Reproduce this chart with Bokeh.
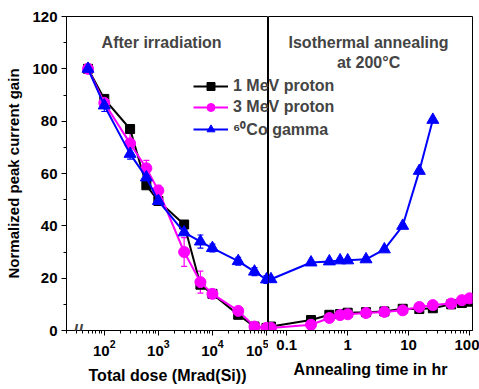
from bokeh.plotting import figure
from bokeh.layouts import row
from bokeh.models import (Range1d, FixedTicker, LogTickFormatter, CustomJSTickFormatter,
                          Legend, LegendItem, Label, Whisker, TeeHead, ColumnDataSource)
from bokeh.embed import file_html
from bokeh.resources import INLINE

# ---------------- data ----------------
dose = [50, 100, 300, 600, 1000, 3000, 6000, 10000, 30000, 60000, 100000]
p1_dose_gain = [100, 88.5, 77, 55.5, 49.5, 40.5, 17.5, 14, 6, 1.5, 1]
p3_dose_gain = [100, 87, 71.5, 62, 53.5, 30, 18.5, 14, 7.5, 1.5, 1]
co_dose_gain = [100, 86, 67.5, 58.5, 49.5, 37.5, 34, 31.5, 26.5, 22.5, 19.5]
p3_dose_err = [0, 1.5, 4, 3, 2, 5.5, 4.2, 1, 1, 0.5, 0.5]
co_dose_err = [0, 2.3, 2, 1.5, 1, 1, 2.5, 1.5, 1.5, 1.5, 1.5]

anneal_t = [0.055, 0.25, 0.5, 0.75, 1, 2, 4, 8, 15, 25, 50, 75, 100]
p1_anneal = [1.5, 4, 6, 6.3, 6.8, 7, 7.3, 8.3, 8.2, 8.5, 10, 10.5, 11]
p3_anneal = [1, 2.2, 4.8, 5.9, 6.2, 6.7, 7.1, 7.7, 9, 9.7, 10.3, 11.6, 12.3]
co_t = [0.055, 0.25, 0.5, 0.75, 1, 2, 4, 8, 15, 25]
co_anneal = [19.6, 26, 26.4, 26.8, 26.8, 27.2, 31, 40, 61, 80.5]

series_names = ["1 MeV proton", "3 MeV proton", "\u2076\u2070Co gamma"]
colors = ["black", "#FF00FF", "#0000FF"]

dose_ticks = [1e2, 1e3, 1e4, 1e5]
time_ticks = [0.1, 1, 10, 100]
y_ticks = [0, 20, 40, 60, 80, 100, 120]

FONT = "Liberation Sans"


def minor_list(lo_exp, hi_exp):
    return [m * 10.0 ** k for k in range(lo_exp, hi_exp) for m in range(2, 10)]


def style_axis(ax, label_size="16px", tick_size="15px"):
    ax.axis_line_color = "black"
    ax.major_tick_out = 5
    ax.major_tick_in = 0
    ax.minor_tick_out = 3
    ax.minor_tick_in = 0
    ax.major_tick_line_color = "black"
    ax.minor_tick_line_color = "black"
    ax.major_label_text_font = FONT
    ax.major_label_text_font_style = "bold"
    ax.major_label_text_font_size = tick_size
    ax.major_label_text_color = "black"
    ax.axis_label_text_font = FONT
    ax.axis_label_text_font_style = "bold"
    ax.axis_label_text_font_size = label_size
    ax.axis_label_text_color = "black"
    ax.major_label_standoff = 4
    ax.axis_label_standoff = 8


y_range = Range1d(0, 120)
H = 386
markers = ["square", "circle", "triangle"]
msizes = [9, 11, 12]

# ---------------- left panel ----------------
left = figure(width=268, height=H, x_axis_type="log", x_range=Range1d(20, 1.09e5),
              y_range=y_range, output_backend="svg", toolbar_location=None,
              min_border_left=66, min_border_right=0, min_border_top=16, min_border_bottom=52)
left.grid.visible = False
left.outline_line_color = "black"
left.outline_line_width = 1

xa = left.xaxis[0]
xa.ticker = FixedTicker(ticks=dose_ticks, minor_ticks=minor_list(1, 5))
xa.formatter = LogTickFormatter()
xa.axis_label = "Total dose (Mrad(Si))"
style_axis(xa)

ya = left.yaxis[0]
ya.ticker = FixedTicker(ticks=y_ticks, minor_ticks=[10, 30, 50, 70, 90, 110])
ya.axis_label = "Normalized peak current gain"
style_axis(ya, label_size="15px")
ya.axis_label_standoff = 7

left_vals = [p1_dose_gain, p3_dose_gain, co_dose_gain]

for vals, errs, col in [(p3_dose_gain, p3_dose_err, colors[1]), (co_dose_gain, co_dose_err, colors[2])]:
    src = ColumnDataSource(dict(x=dose, lo=[v - e for v, e in zip(vals, errs)],
                                hi=[v + e for v, e in zip(vals, errs)]))
    w = Whisker(base="x", lower="lo", upper="hi", source=src, dimension="height",
                line_color=col, line_width=1.2,
                upper_head=TeeHead(size=6, line_color=col, line_width=1.2),
                lower_head=TeeHead(size=6, line_color=col, line_width=1.2))
    left.add_layout(w)

for vals, col, mk, ms in zip(left_vals, colors, markers, msizes):
    left.line(dose, vals, line_color=col, line_width=2)
    left.scatter(dose, vals, marker=mk, size=ms, fill_color=col, line_color=col)

left.add_layout(Label(x=1150, y=110, text="After irradiation", text_align="center",
                      text_baseline="middle", text_font=FONT, text_font_style="bold",
                      text_font_size="16px"))
left.add_layout(Label(x=33, y=0, text="//", text_align="center", text_baseline="middle",
                      text_font=FONT, text_font_style="bold", text_font_size="18px"))

# ---------------- right panel ----------------
right = figure(width=80 + 204 + 7, height=H, x_axis_type="log", x_range=Range1d(0.0501, 112),
               y_range=y_range, y_axis_location=None, output_backend="svg",
               toolbar_location=None, min_border_left=80, min_border_right=7,
               min_border_top=16, min_border_bottom=52, margin=(0, 0, 0, -80))
right.grid.visible = False
right.outline_line_color = "black"
right.outline_line_width = 1
right.background_fill_color = None
right.border_fill_color = None

xb = right.xaxis[0]
xb.ticker = FixedTicker(ticks=time_ticks, minor_ticks=minor_list(-2, 3))
xb.formatter = CustomJSTickFormatter(code="return tick.toString();")
xb.axis_label = "Annealing time in hr"
style_axis(xb)

right_data = [(anneal_t, p1_anneal), (anneal_t, p3_anneal), (co_t, co_anneal)]
for (tx, vals), col, mk, ms in zip(right_data, colors, markers, msizes):
    right.line(tx, vals, line_color=col, line_width=2)
    right.scatter(tx, vals, marker=mk, size=ms, fill_color=col, line_color=col)

right.add_layout(Label(x=2.2, y=110.2, text="Isothermal annealing", text_align="center",
                       text_baseline="middle", text_font=FONT, text_font_style="bold",
                       text_font_size="16px"))
right.add_layout(Label(x=2.2, y=102.6, text="at 200\u00b0C", text_align="center",
                       text_baseline="middle", text_font=FONT, text_font_style="bold",
                       text_font_size="16px"))

# ---------------- legend overlay (transparent, spans the panel divider) ----------------
# same frame height as the panels; its own y range keeps the series out of view
leg = figure(width=150, height=H, x_range=Range1d(0, 1), y_range=Range1d(200, 300),
             x_axis_location=None, y_axis_location=None, output_backend="svg",
             toolbar_location=None, min_border_top=16, min_border_bottom=52,
             min_border_left=0, min_border_right=0, margin=(0, 0, 0, -286))
leg.grid.visible = False
leg.outline_line_color = None
leg.background_fill_color = None
leg.border_fill_color = None
items = []
for (tx, vals), col, mk, ms, name in zip(right_data, colors, markers, msizes, series_names):
    lr = leg.line(tx, vals, line_color=col, line_width=2)
    sr = leg.scatter(tx, vals, marker=mk, size=ms, fill_color=col, line_color=col)
    items.append(LegendItem(label=name, renderers=[lr, sr]))
legend = Legend(items=items, location=(0, 190), border_line_color=None,
                background_fill_alpha=0, padding=0, margin=0, spacing=1,
                glyph_width=35, glyph_height=20, label_height=20, label_standoff=5,
                label_text_font=FONT, label_text_font_style="bold",
                label_text_font_size="16px")
leg.add_layout(legend)

layout = row(left, right, leg)
open("out.html", "w").write(file_html(layout, INLINE))
